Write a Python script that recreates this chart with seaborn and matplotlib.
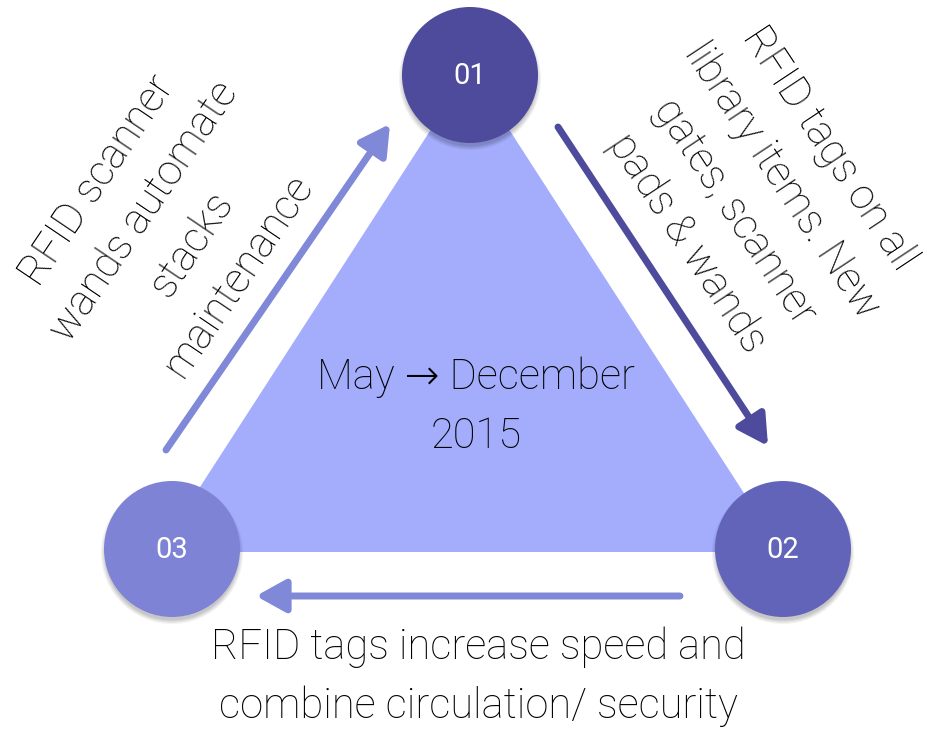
import matplotlib
matplotlib.use("Agg")
import matplotlib.pyplot as plt
from matplotlib.patches import Polygon, Circle
import numpy as np
import pandas as pd
import seaborn as sns

# content of the cycle diagram
step_labels = ["01", "02", "03"]
step1_lines = ["RFID tags on all", "library items. New", "gates, scanner", "pads & wands"]
step2_text = "RFID tags increase speed and\ncombine circulation/ security"
step3_lines = ["RFID scanner", "wands automate", "stacks", "maintenance"]
period_text = "May \u2192 December\n2015"

# layout (pixel coordinates, y downwards)
node_x = [470, 783, 172]
node_y = [75, 549, 549]
node_colors = ["#4E4A9C", "#6264BA", "#7F83D6"]
triangle = [(470, 69), (782, 552), (158, 552)]

sns.set_theme(style="white")
plt.rcParams["font.family"] = ["Roboto", "DejaVu Sans"]

fig = plt.figure(figsize=(9.29, 7.29), dpi=100)
ax = fig.add_axes([0, 0, 1, 1])
ax.set_xlim(0, 929)
ax.set_ylim(729, 0)
ax.axis("off")

# big triangle behind everything
ax.add_patch(Polygon(triangle, closed=True, facecolor="#A3ADFC", edgecolor="none", zorder=1))

# arrows between the steps
arrows = [
    ((558, 127), (768, 446), "#4E4A9C"),
    ((680, 596), (256, 596), "#8088D8"),
    ((166, 450), (390, 124), "#8088D8"),
]
for start, tip, col in arrows:
    ax.annotate("", xy=tip, xytext=start,
                arrowprops=dict(arrowstyle="-|>,head_length=0.9,head_width=0.5",
                                lw=5, color=col, shrinkA=0, shrinkB=0,
                                mutation_scale=20),
                zorder=2)

# soft shadow under the circles
for x, y in zip(node_x, node_y):
    for i, a in enumerate([0.05, 0.05, 0.06, 0.07]):
        ax.add_patch(Circle((x, y + 4), 71 - i * 1.2, facecolor="black",
                            edgecolor="none", alpha=a, zorder=3))

nodes = pd.DataFrame({"x": node_x, "y": node_y, "step": step_labels})
sns.scatterplot(data=nodes, x="x", y="y", hue="step", palette=node_colors,
                s=(2 * 68 * 0.72) ** 2, linewidth=0, legend=False, ax=ax, zorder=4)

for x, y, lab in zip(node_x, node_y, step_labels):
    ax.text(x, y + 1, lab, color="white", fontsize=21, ha="center", va="center", zorder=5)

txt = dict(fontsize=30, fontweight="light", color="black", ha="center",
           va="center", multialignment="center", linespacing=1.55,
           rotation_mode="anchor", zorder=5)


def rotated_block(lines, cx, cy, angle, gap=57):
    # one text per line so each line is placed along the slanted block
    t = np.radians(angle)
    step = np.array([np.sin(t), np.cos(t)]) * gap
    n = len(lines)
    for i, line in enumerate(lines):
        k = i - (n - 1) / 2
        ax.text(cx + k * step[0], cy + k * step[1], line, rotation=angle, **txt)


rotated_block(step1_lines, 758, 196, -56.5)
rotated_block(step3_lines, 168, 228, 56)
ax.text(478, 677, step2_text, **txt)
ax.text(476, 407, period_text, **txt)

fig.savefig("out.png", dpi=100)
